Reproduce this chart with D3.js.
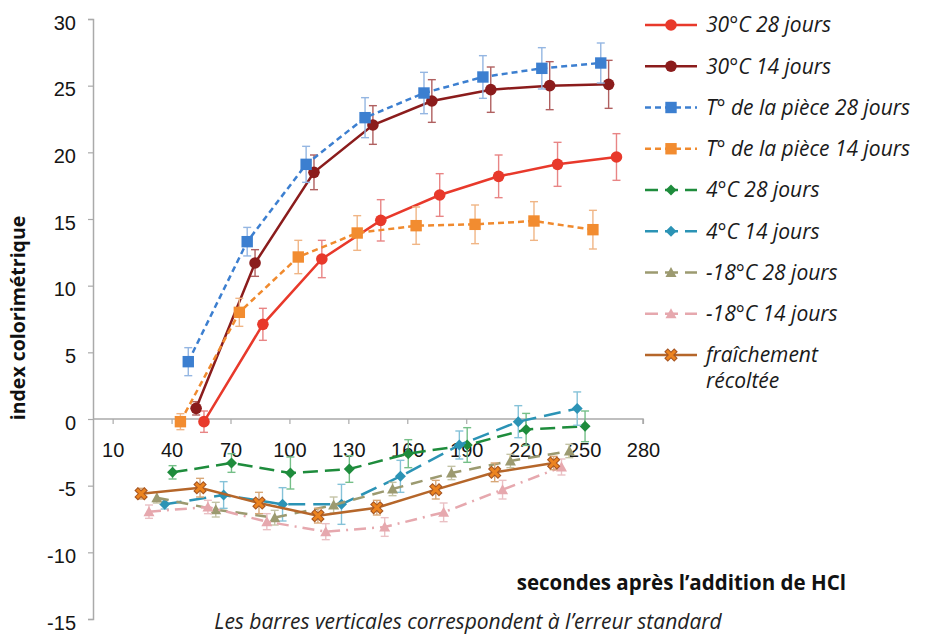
<!DOCTYPE html>
<html>
<head>
<meta charset="utf-8">
<script src="https://cdn.jsdelivr.net/npm/d3@7"></script>
<style>
  body { margin: 0; background: #fff; }
  svg { display: block; }
</style>
</head>
<body>
<div id="chart"></div>
<script>
const W = 925, H = 634;

// secondes de base (1re série) et décalage de chaque série sur l'axe
const secondes = [24.5, 54.5, 84.5, 114.5, 144.5, 174.5, 204.5, 234.5];
const decalage = [32, 28, 24, 20, 16, 12, 8, 4, 0];

const noms = ["30°C 28 jours", "30°C 14 jours", "T° de la pièce 28 jours", "T° de la pièce 14 jours",
  "4°C 28 jours", "4°C 14 jours", "-18°C 28 jours", "-18°C 14 jours", "fraîchement récoltée"];

const c30_28 = [-0.2, 7.1, 12.0, 14.9, 16.8, 18.2, 19.1, 19.65];
const c30_14 = [0.8, 11.7, 18.5, 22.05, 23.85, 24.7, 25.0, 25.1];
const piece_28 = [4.3, 13.3, 19.1, 22.6, 24.45, 25.65, 26.3, 26.7];
const piece_14 = [-0.2, 8.0, 12.15, 13.95, 14.5, 14.6, 14.85, 14.2];
const c4_28 = [-4.0, -3.3, -4.05, -3.75, -2.6, -1.95, -0.78, -0.55];
const c4_14 = [-6.4, -5.7, -6.4, -6.4, -4.3, -1.95, -0.2, 0.78];
const m18_28 = [-5.9, -6.8, -7.4, -6.45, -5.25, -4.05, -3.15, -2.4];
const m18_14 = [-6.95, -6.6, -7.7, -8.45, -8.1, -7.0, -5.3, -3.6];
const frais = [-5.6, -5.15, -6.3, -7.25, -6.65, -5.3, -4.0, -3.3];

// erreur standard
const e30_28 = [0.8, 1.2, 1.4, 1.55, 1.6, 1.6, 1.65, 1.75];
const e30_14 = [0.5, 1.0, 1.3, 1.45, 1.6, 1.7, 1.8, 1.8];
const epiece_28 = [1.05, 1.07, 1.35, 1.5, 1.55, 1.6, 1.55, 1.5];
const epiece_14 = [0.6, 1.05, 1.25, 1.3, 1.4, 1.45, 1.45, 1.45];
const e4_28 = [0.5, 0.7, 1.2, 1.0, 1.05, 1.3, 1.2, 1.15];
const e4_14 = [0.35, 1.0, 1.25, 1.5, 1.2, 1.05, 1.2, 1.25];
const em18_28 = [0.4, 0.55, 0.55, 0.6, 0.5, 0.5, 0.5, 0.5];
const em18_14 = [0.5, 0.5, 0.6, 0.6, 0.7, 0.7, 0.7, 0.6];
const efrais = [0.4, 0.7, 0.8, 0.55, 0.55, 0.7, 0.7, 0.5];

const xTicks = [10, 40, 70, 100, 130, 160, 190, 220, 250, 280];
const yTicks = [-15, -10, -5, 0, 5, 10, 15, 20, 25, 30];

const valeurs = [c30_28, c30_14, piece_28, piece_14, c4_28, c4_14, m18_28, m18_14, frais];
const erreurs = [e30_28, e30_14, epiece_28, epiece_14, e4_28, e4_14, em18_28, em18_14, efrais];

// styles
const styles = [
  {line: "#e8392b", fill: "#e8392b", stroke: "#e8392b", err: "#e88585", dash: null, sym: "circle"},
  {line: "#8b1c1c", fill: "#8b1c1c", stroke: "#8b1c1c", err: "#b06060", dash: null, sym: "circle"},
  {line: "#3c7fd0", fill: "#3c7fd0", stroke: "#3c7fd0", err: "#94b6e2", dash: "6,4", sym: "square"},
  {line: "#f08a2e", fill: "#f28c30", stroke: "#f28c30", err: "#f0b585", dash: "6,4", sym: "square"},
  {line: "#1e8c3c", fill: "#1e8c3c", stroke: "#1e8c3c", err: "#75bf88", dash: "15,7", sym: "diamond"},
  {line: "#2b93b5", fill: "#2b93b5", stroke: "#2b93b5", err: "#85c2d8", dash: "17,8", sym: "diamond"},
  {line: "#9c9a70", fill: "#9c9a70", stroke: "#9c9a70", err: "#c4c3a6", dash: "12,8", sym: "triangle"},
  {line: "#e6a8ae", fill: "#e6a8ae", stroke: "#e6a8ae", err: "#eac0c4", dash: "12,6,2,6", sym: "triangle"},
  {line: "#b5662a", fill: "#ec8420", stroke: "#a65522", err: "#d8a878", dash: null, sym: "x"}
];

const x = d3.scaleLinear().domain([0, 280]).range([93, 643]);
const y = d3.scaleLinear().domain([-15, 30]).range([619, 19]);

const svg = d3.select("#chart").append("svg")
  .attr("width", W).attr("height", H);

// axes
const yAxis = svg.append("g")
  .attr("transform", `translate(${x(0)},0)`)
  .call(d3.axisLeft(y).tickValues(yTicks).tickSize(5).tickPadding(12).tickFormat(d => String(d)));
yAxis.select(".domain").attr("stroke", "#aaa").attr("stroke-width", 1.5);
yAxis.selectAll(".tick line").attr("stroke", "#aaa").attr("stroke-width", 1.2);
yAxis.selectAll("text").attr("font-family", "Liberation Sans").attr("font-size", 20)
  .attr("fill", "#151515").attr("dy", "0.5em");

const xAxis = svg.append("g")
  .attr("transform", `translate(0,${y(0)})`)
  .call(d3.axisBottom(x).tickValues(xTicks).tickSize(5).tickPadding(19).tickFormat(d => String(d)));
xAxis.select(".domain").attr("d", `M${x(0)},0H${x(280)}V5`).attr("stroke", "#aaa").attr("stroke-width", 1.5);
xAxis.selectAll(".tick line").attr("stroke", "#aaa").attr("stroke-width", 1.2);
xAxis.selectAll("text").attr("font-family", "Liberation Sans").attr("font-size", 20).attr("fill", "#151515");

// symboles
function marker(sel, st) {
  if (st.sym === "circle") {
    sel.append("circle").attr("r", 5.8).attr("fill", st.fill);
  } else if (st.sym === "square") {
    sel.append("rect").attr("x", -5.7).attr("y", -5.7).attr("width", 11.4).attr("height", 11.4).attr("fill", st.fill);
  } else if (st.sym === "diamond") {
    sel.append("path").attr("d", "M0,-5.5L5.5,0L0,5.5L-5.5,0Z").attr("fill", st.fill);
  } else if (st.sym === "triangle") {
    sel.append("path").attr("d", "M0,-5.5L5.5,4.5L-5.5,4.5Z").attr("fill", st.fill);
  } else {
    sel.append("path").attr("d", "M-5,-5L5,5M5,-5L-5,5").attr("stroke", st.stroke).attr("stroke-width", 5);
    sel.append("path").attr("d", "M-4.2,-4.2L4.2,4.2M4.2,-4.2L-4.2,4.2").attr("stroke", st.fill).attr("stroke-width", 3);
  }
}

const line = d3.line().x(d => x(d.t)).y(d => y(d.v));

valeurs.forEach(function(vals, i) {
  const st = styles[i];
  const pts = vals.map((v, k) => ({t: secondes[k] + decalage[i], v: v, e: erreurs[i][k]}));
  const g = svg.append("g");

  // barres d'erreur
  const eb = g.selectAll(".eb").data(pts).enter().append("g")
    .attr("stroke", st.err).attr("stroke-width", 1.4);
  eb.append("line").attr("x1", d => x(d.t)).attr("x2", d => x(d.t))
    .attr("y1", d => y(d.v + d.e)).attr("y2", d => y(d.v - d.e));
  eb.append("line").attr("x1", d => x(d.t) - 4).attr("x2", d => x(d.t) + 4)
    .attr("y1", d => y(d.v + d.e)).attr("y2", d => y(d.v + d.e));
  eb.append("line").attr("x1", d => x(d.t) - 4).attr("x2", d => x(d.t) + 4)
    .attr("y1", d => y(d.v - d.e)).attr("y2", d => y(d.v - d.e));

  g.append("path").datum(pts).attr("d", line)
    .attr("fill", "none").attr("stroke", st.line).attr("stroke-width", 2.5)
    .attr("stroke-dasharray", st.dash);

  g.selectAll(".m").data(pts).enter().append("g")
    .attr("transform", d => `translate(${x(d.t)},${y(d.v)})`)
    .each(function() { marker(d3.select(this), st); });
});

// légende
const leg = svg.append("g");
noms.forEach(function(nom, i) {
  const st = styles[i];
  const ly = 25 + i * 41.25;
  const row = leg.append("g").attr("transform", `translate(0,${ly})`);
  row.append("line").attr("x1", 645).attr("x2", 697).attr("y1", 0).attr("y2", 0)
    .attr("stroke", st.line).attr("stroke-width", 2.5)
    .attr("stroke-dasharray", st.dash ? (st.sym === "square" ? "6,4" : "13,7") : null);
  const m = row.append("g").attr("transform", "translate(671,0)");
  marker(m, st);
  const parts = i === 8 ? ["fraîchement", "récoltée"] : [nom];
  parts.forEach(function(p, k) {
    row.append("text").text(p).attr("x", 706).attr("y", k * 26)
      .attr("dy", "0.35em")
      .attr("font-family", "Open Sans").attr("font-style", "italic")
      .attr("font-size", 21).attr("fill", "#1a1a1a");
  });
});

// titres
svg.append("text")
  .attr("transform", "translate(25,318) rotate(-90)")
  .attr("text-anchor", "middle")
  .attr("font-family", "Open Sans").attr("font-weight", "bold").attr("font-size", 19.5)
  .attr("fill", "#111")
  .text("index colorimétrique");

svg.append("text")
  .attr("x", 846).attr("y", 590).attr("text-anchor", "end")
  .attr("font-family", "Open Sans").attr("font-weight", "bold").attr("font-size", 20.5)
  .attr("fill", "#111")
  .text("secondes après l’addition de HCl");

svg.append("text")
  .attr("x", 468).attr("y", 629).attr("text-anchor", "middle")
  .attr("font-family", "Open Sans").attr("font-style", "italic").attr("font-size", 21)
  .attr("fill", "#222")
  .text("Les barres verticales correspondent à l’erreur standard");
</script>
</body>
</html>
